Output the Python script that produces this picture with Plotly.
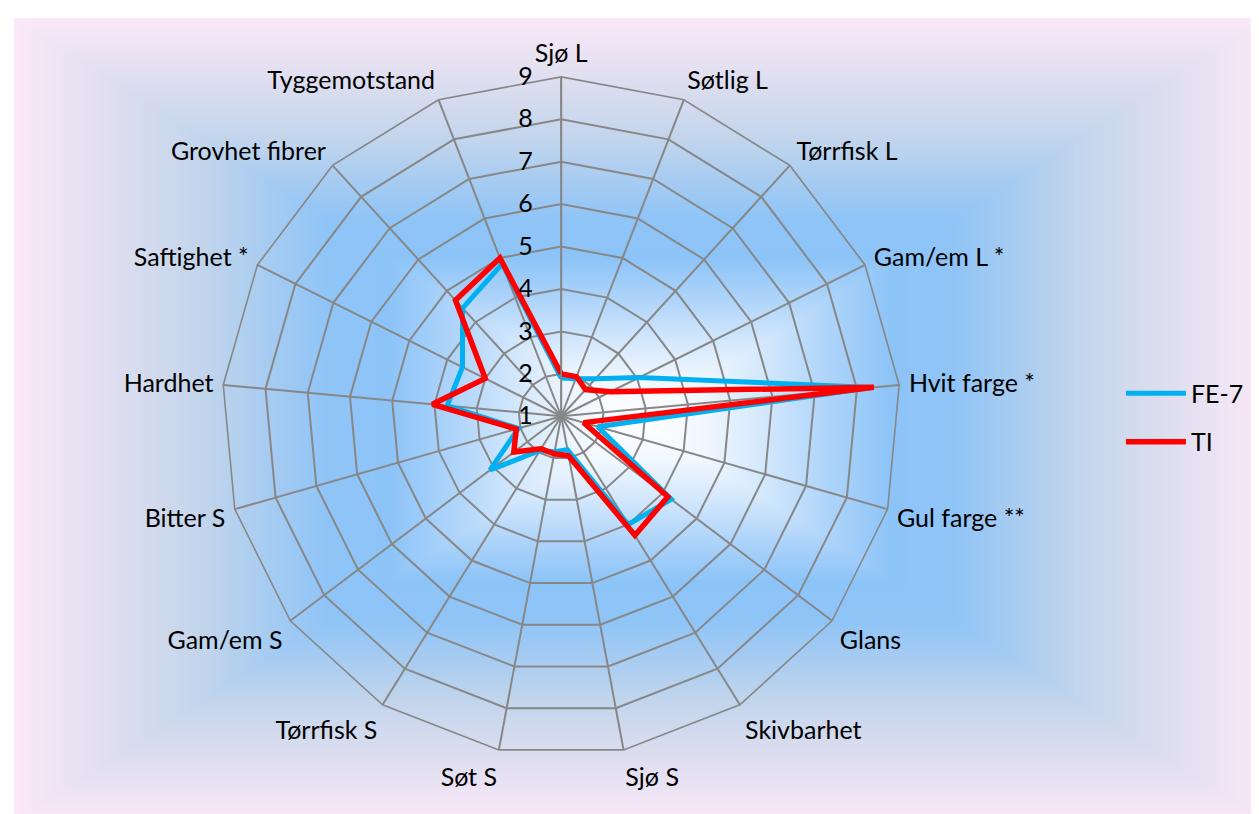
import base64
import struct
import zlib

import numpy as np
import plotly.graph_objects as go


categories = [
    "Sjø L", "Søtlig L", "Tørrfisk L", "Gam/em L *", "Hvit farge *",
    "Gul farge **", "Glans", "Skivbarhet", "Sjø S", "Søt S", "Tørrfisk S",
    "Gam/em S", "Bitter S", "Hardhet", "Saftighet *", "Grovhet fibrer",
    "Tyggemotstand",
]
fe7 = [1.9, 1.95, 2.2, 3.05, 8.35, 1.9, 4.25, 4.0, 1.8, 1.85, 1.95,
       3.1, 2.05, 3.7, 3.6, 4.45, 4.85]
ti = [2.0, 2.0, 1.85, 2.3, 8.4, 1.55, 4.15, 4.3, 1.95, 1.9, 1.9,
      2.4, 2.1, 4.05, 3.0, 4.7, 5.0]
radial_ticks = [1, 2, 3, 4, 5, 6, 7, 8, 9]

W, H = 1259, 814
FONT = "Lato"
FSIZE = 25
GRID = "#878787"


def gradient_png(w, h):
    # rectangular "from centre" fill like the Excel chart area
    stops = [0.0, 0.1, 0.2, 0.3, 0.4, 0.5, 0.6, 0.7, 0.8, 0.9, 1.0]
    cols = ["#ffffff", "#f1f7fe", "#d2e7fc", "#aed4fa", "#8dc4f8", "#8fc4f7",
            "#a8ccf1", "#c2d5ec", "#d6dbee", "#e8e2f3", "#fbe8f8"]
    rgb = np.array([[int(c[i:i + 2], 16) for i in (1, 3, 5)] for c in cols], float)
    xs = np.abs(np.linspace(-1, 1, w))[None, :]
    ys = np.abs(np.linspace(-1, 1, h))[:, None]
    t = np.maximum(xs, ys)
    img = np.stack([np.interp(t, stops, rgb[:, k]) for k in range(3)], axis=-1)
    img = np.clip(np.round(img), 0, 255).astype(np.uint8)
    # PNG "sub" filter for better compression
    flt = img.copy()
    flt[:, 1:, :] = img[:, 1:, :] - img[:, :-1, :]
    raw = np.concatenate([np.ones((h, 1), np.uint8), flt.reshape(h, -1)], axis=1)

    def chunk(tag, data):
        c = struct.pack(">I", len(data)) + tag + data
        return c + struct.pack(">I", zlib.crc32(tag + data) & 0xFFFFFFFF)

    png = b"\x89PNG\r\n\x1a\n"
    png += chunk(b"IHDR", struct.pack(">IIBBBBB", w, h, 8, 2, 0, 0, 0))
    png += chunk(b"IDAT", zlib.compress(raw.tobytes(), 9))
    png += chunk(b"IEND", b"")
    return "data:image/png;base64," + base64.b64encode(png).decode()


bg_left, bg_top = 6, 10
background = gradient_png(W - bg_left, H - bg_top)

fig = go.Figure()
for name, vals, color, width in [("FE-7", fe7, "#00b0f0", 5), ("TI", ti, "#ff0000", 5.5)]:
    fig.add_trace(go.Scatterpolar(
        r=vals + vals[:1],
        theta=categories + categories[:1],
        mode="lines",
        name=name,
        legendgroup=name,
        line=dict(color=color, width=width),
    ))

fig.update_layout(
    width=W,
    height=H,
    margin=dict(l=0, r=0, t=0, b=0),
    paper_bgcolor="white",
    font=dict(family=FONT, size=FSIZE, color="black"),
    images=[dict(
        source=background, xref="paper", yref="paper",
        x=bg_left / W, y=1 - bg_top / H,
        sizex=1 - bg_left / W, sizey=1 - bg_top / H,
        xanchor="left", yanchor="top", sizing="stretch", layer="below",
    )],
    polar=dict(
        domain=dict(x=[0.1698, 0.7090], y=[0.0815, 0.9154]),
        bgcolor="rgba(0,0,0,0)",
        gridshape="linear",
        angularaxis=dict(
            direction="clockwise",
            rotation=90,
            gridcolor=GRID,
            gridwidth=1.6,
            linecolor=GRID,
            linewidth=1.6,
            showline=True,
            ticks="outside",
            ticklen=4,
            tickcolor="rgba(0,0,0,0)",
            tickfont=dict(family=FONT, size=FSIZE, color="black"),
        ),
        radialaxis=dict(
            range=[1, 9],
            tickvals=radial_ticks,
            angle=90,
            side="counterclockwise",
            tickangle=90,
            gridcolor=GRID,
            gridwidth=1.6,
            linecolor=GRID,
            linewidth=1.6,
            showline=True,
            ticks="outside",
            ticklen=19,
            tickcolor="rgba(0,0,0,0)",
            tickfont=dict(family=FONT, size=FSIZE, color="black"),
        ),
    ),
    legend=dict(
        x=0.884, y=0.497, xanchor="left", yanchor="middle",
        bgcolor="rgba(0,0,0,0)",
        font=dict(family=FONT, size=FSIZE, color="black"),
        tracegroupgap=13,
        itemwidth=60,
    ),
)

fig.write_html("out.html")
